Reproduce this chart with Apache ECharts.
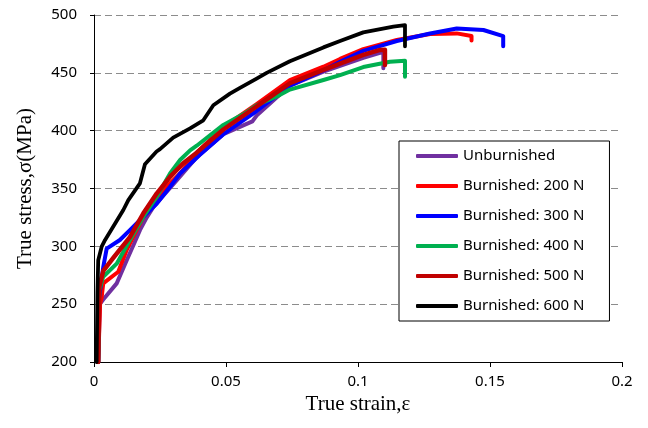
<!DOCTYPE html>
<html>
<head>
<meta charset="utf-8">
<script src="https://cdn.jsdelivr.net/npm/echarts@6/dist/echarts.min.js"></script>
<style>html,body{margin:0;padding:0;background:#fff}#c{width:648px;height:428px}</style>
</head>
<body>
<div id="c"></div>
<script>
const seriesNames = ['Unburnished','Burnished: 200 N','Burnished: 300 N','Burnished: 400 N','Burnished: 500 N','Burnished: 600 N'];
const xTicks = [0, 0.05, 0.1, 0.15, 0.2];
const yTicks = [200, 250, 300, 350, 400, 450, 500];

const unburnishedStrain = [0.0016,0.0022,0.0035,0.0086,0.0124,0.0155,0.0174,0.020,0.0225,0.0263,0.0313,0.0389,0.049,0.060,0.0616,0.0742,0.0869,0.0932,0.102,0.108,0.1096,0.1096];
const unburnishedStress = [200,250,254,268,288,304,314,325,334,344,357,377,397,408,413,439,451,456,463,467,468,454];

const b200Strain = [0.0016,0.0023,0.0029,0.0035,0.0092,0.0124,0.0155,0.020,0.0263,0.0326,0.0389,0.049,0.0616,0.0742,0.0869,0.0932,0.102,0.1147,0.1273,0.1374,0.143,0.143];
const b200Stress = [200,250,256,268,278,297,311,331.4,348.7,363,381,403,423,443.8,455.3,462,470.5,478.4,483.6,484.1,481.8,478];

const b300Strain = [0.0016,0.0019,0.0035,0.0048,0.0098,0.0136,0.0187,0.0238,0.0288,0.0326,0.040,0.049,0.0616,0.0742,0.0869,0.0932,0.102,0.1147,0.1273,0.1374,0.1475,0.155,0.155];
const b300Stress = [200,255,282,298,305.5,314,325.6,337,351.6,363,379,397,417,439,452,459.5,469,477.5,484,488.4,487,481.8,473];

const b400Strain = [0.0016,0.002,0.0035,0.0086,0.0136,0.0187,0.0238,0.0288,0.0326,0.0364,0.0389,0.049,0.0578,0.0616,0.0705,0.0742,0.0869,0.0932,0.102,0.1121,0.1178,0.1178];
const b400Stress = [200,262,273.7,285,305.5,325.6,343,363,374.6,383,387,405,416,422,431,435.5,443.8,448,455,459.6,460.5,446.7];

const b500Strain = [0.0016,0.002,0.0035,0.0073,0.0136,0.0187,0.0238,0.0288,0.0338,0.0389,0.049,0.0616,0.0742,0.0869,0.0932,0.102,0.108,0.1102,0.1102];
const b500Stress = [200,265,278.7,290,308,328.5,345.8,360,371.8,381,401,421,441,452.5,458,465.5,469.7,470,456.8];

const b600Strain = [0.001,0.0013,0.0016,0.0029,0.0042,0.0111,0.013,0.0174,0.0193,0.0237,0.025,0.030,0.0364,0.0414,0.0452,0.0515,0.0553,0.0616,0.0654,0.0742,0.0869,0.0932,0.102,0.1134,0.1178,0.1178];
const b600Stress = [200,260,288,299.7,305.5,331.4,340,354.5,371,382,384,394,402,409,422,432,437,445,450,460,472,477.5,485,490,491.3,473];

const strains = [unburnishedStrain,b200Strain,b300Strain,b400Strain,b500Strain,b600Strain];
const stresses = [unburnishedStress,b200Stress,b300Stress,b400Stress,b500Stress,b600Stress];
const colors = ['#7030A0','#FF0000','#0000FF','#00B050','#C00000','#000000'];
const widths = [4,4,4,4,4.5,3.8];

const chart = echarts.init(document.getElementById('c'));
const series = seriesNames.map((n,i)=>({
  name:n, type:'line', showSymbol:false, symbol:'none', smooth:false, animation:false,
  color:colors[i], z: 2+i,
  lineStyle:{color:colors[i], width:widths[i], cap:'round', join:'round'},
  data: strains[i].map((x,k)=>[x, stresses[i][k]])
}));
const tickFont = {fontFamily:'Noto Sans', fontSize:15, color:'#000'};
chart.setOption({
  animation:false,
  backgroundColor:'#fff',
  grid:{left:94, right:26, top:15, bottom:66},
  xAxis:{type:'value', min:xTicks[0], max:xTicks[xTicks.length-1], interval:0.05,
    name:'True strain,ε', nameLocation:'middle', nameGap:28,
    nameTextStyle:{fontFamily:'Liberation Serif', fontSize:21, color:'#000'},
    axisLine:{show:true, lineStyle:{color:'#000', width:1}},
    axisTick:{show:true, inside:false, length:5, lineStyle:{color:'#000'}},
    axisLabel:Object.assign({margin:12, formatter:v=>String(+v.toFixed(2))}, tickFont),
    splitLine:{show:false}},
  yAxis:{type:'value', min:yTicks[0], max:yTicks[yTicks.length-1], interval:50,
    name:'True stress,σ(MPa)', nameLocation:'middle', nameGap:58,
    nameTextStyle:{fontFamily:'Liberation Serif', fontSize:21, color:'#000'},
    axisLine:{show:true, lineStyle:{color:'#000', width:1}},
    axisTick:{show:true, inside:false, length:4, lineStyle:{color:'#000'}},
    axisLabel:Object.assign({margin:17}, tickFont),
    splitLine:{show:true, lineStyle:{color:'#8c8c8c', width:1, type:[7,4]}}},
  legend:{orient:'vertical', left:399, top:141, data:seriesNames,
    icon:'roundRect', itemWidth:42, itemHeight:4, itemGap:14,
    padding:[7,25,7,17], backgroundColor:'#fff', borderColor:'#000', borderWidth:1, borderRadius:0,
    textStyle:{fontFamily:'Noto Sans', fontSize:15, color:'#000', lineHeight:16}, z:10},
  series: series
});
</script>
</body>
</html>
